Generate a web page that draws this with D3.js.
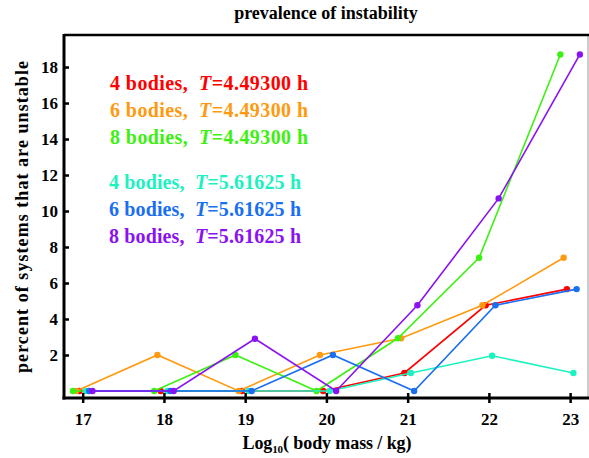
<!DOCTYPE html>
<html>
<head>
<meta charset="utf-8">
<script src="https://cdn.jsdelivr.net/npm/d3@7"></script>
<style>
  body { margin: 0; background: #fff; }
  svg { display: block; }
  text { font-family: "Liberation Serif", "Times New Roman", serif; font-weight: bold; }
</style>
</head>
<body>
<div id="content"></div>
<script>
// data
var masses = [17, 18, 19, 20, 21, 22, 23];
var red4 = [0, 0, 0, 0, 1, 4.76, 5.66];
var orange6 = [0, 2, 0, 2, 2.93, 4.76, 7.4];
var green8 = [0, 0, 2, 0, 2.93, 7.4, 18.7];
var cyan4 = [0, 0, 0, 0, 1, 1.96, 1];
var blue6 = [0, 0, 0, 2, 0, 4.76, 5.66];
var purple8 = [0, 0, 2.9, 0, 4.76, 10.7, 18.7];
var seriesNames = ["4 bodies,", "6 bodies,", "8 bodies,", "4 bodies,", "6 bodies,", "8 bodies,"];
var periods = ["4.49300", "4.49300", "4.49300", "5.61625", "5.61625", "5.61625"];
var xTicks = [17, 18, 19, 20, 21, 22, 23];
var yTicks = [2, 4, 6, 8, 10, 12, 14, 16, 18];

var colors = ["#ff0000", "#ff9a10", "#3ef012", "#1cf2c0", "#1a6ef2", "#8a12f2"];
var offsets = [-0.04, -0.08, -0.12, 0.04, 0.08, 0.12];
var allSeries = [red4, orange6, green8, cyan4, blue6, purple8];

var width = 589, height = 458;
var plotLeft = 64, plotRight = 588, plotTop = 35, plotBottom = 398;

var svg = d3.select("#content").append("svg").attr("width", width).attr("height", height);

var x = d3.scaleLinear().domain([16.77, 23.22]).range([plotLeft, plotRight]);
var y = d3.scaleLinear().domain([-0.39, 19.78]).range([plotBottom, plotTop]);

// frame: right thin gray, top thick black
svg.append("line").attr("x1", plotRight).attr("x2", plotRight).attr("y1", plotTop).attr("y2", plotBottom)
    .attr("stroke", "#999").attr("stroke-width", 1);
svg.append("line").attr("x1", plotLeft).attr("x2", plotRight + 1).attr("y1", plotTop).attr("y2", plotTop)
    .attr("stroke", "#000").attr("stroke-width", 2.5);

var line = d3.line()
    .x(function (d) { return x(d.x); })
    .y(function (d) { return y(d.v); });

allSeries.forEach(function (vals, i) {
    var pts = vals.map(function (v, j) { return { x: masses[j] + offsets[i], v: v }; });
    var g = svg.append("g");
    g.append("path")
        .attr("d", line(pts))
        .attr("fill", "none")
        .attr("stroke", colors[i])
        .attr("stroke-width", 1.6);
    g.selectAll("circle")
        .data(pts)
        .enter()
        .append("circle")
        .attr("cx", function (d) { return x(d.x); })
        .attr("cy", function (d) { return y(d.v); })
        .attr("r", 3.2)
        .attr("fill", colors[i]);
});

// axes
var xAxis = svg.append("g")
    .attr("transform", `translate(0, ${plotBottom})`)
    .call(d3.axisBottom(x).tickValues(xTicks).tickSize(5).tickPadding(10).tickFormat(d3.format("d")));
xAxis.select(".domain").remove();
xAxis.selectAll(".tick line").attr("y1", -5).attr("y2", 5).attr("stroke-width", 2.5);
xAxis.selectAll(".tick text").attr("font-size", 17).attr("font-family", null).attr("fill", "#000");

var yAxis = svg.append("g")
    .attr("transform", `translate(${plotLeft}, 0)`)
    .call(d3.axisLeft(y).tickValues(yTicks).tickSize(-5).tickPadding(6));
yAxis.select(".domain").remove();
yAxis.selectAll(".tick line").attr("stroke-width", 2.5);
yAxis.selectAll(".tick text").attr("font-size", 17).attr("font-family", null).attr("fill", "#000");

svg.append("line").attr("x1", plotLeft).attr("x2", plotLeft).attr("y1", plotTop - 1).attr("y2", plotBottom + 1.5)
    .attr("stroke", "#000").attr("stroke-width", 3);
svg.append("line").attr("x1", plotLeft - 1.5).attr("x2", plotRight + 1).attr("y1", plotBottom).attr("y2", plotBottom)
    .attr("stroke", "#000").attr("stroke-width", 3);

// legend
var legendY = [90, 117, 144, 189, 216, 243];
seriesNames.forEach(function (name, i) {
    var t = svg.append("text")
        .attr("x", i < 3 ? 110 : 109)
        .attr("y", legendY[i])
        .attr("font-size", 20)
        .attr("fill", colors[i])
        .attr("textLength", i < 3 ? 198 : 192)
        .attr("lengthAdjust", "spacing")
        .style("white-space", "pre");
    t.append("tspan").text(name + "  ");
    t.append("tspan").attr("font-style", "italic").text("T");
    t.append("tspan").text("=" + periods[i] + " h");
});

// titles
svg.append("text")
    .attr("x", (plotLeft + plotRight) / 2)
    .attr("y", 19)
    .attr("text-anchor", "middle")
    .attr("font-size", 18)
    .text("prevalence of instability");

var xLabel = svg.append("text")
    .attr("x", 327)
    .attr("y", 449)
    .attr("text-anchor", "middle")
    .attr("font-size", 18)
    .attr("textLength", 169)
    .attr("lengthAdjust", "spacing");
xLabel.append("tspan").text("Log");
xLabel.append("tspan").attr("font-size", 11).attr("dy", 4).text("10");
xLabel.append("tspan").attr("dy", -4).text("( body mass / kg)");

svg.append("text")
    .attr("transform", "translate(28, 217) rotate(-90)")
    .attr("text-anchor", "middle")
    .attr("font-size", 18)
    .attr("textLength", 312)
    .attr("lengthAdjust", "spacing")
    .text("percent of systems that are unstable");
</script>
</body>
</html>
